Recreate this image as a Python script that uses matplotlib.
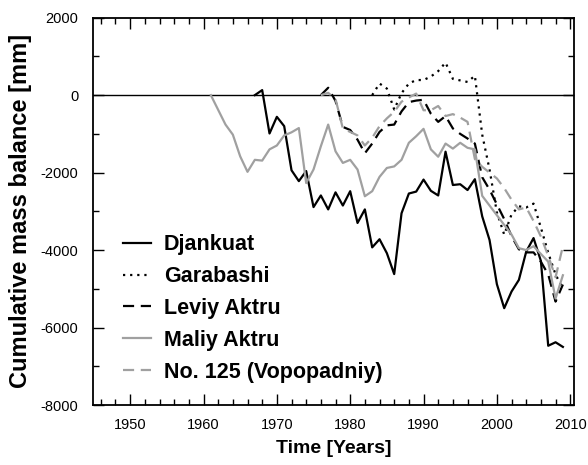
import numpy as np
import matplotlib
matplotlib.use("Agg")
import matplotlib.pyplot as plt
from matplotlib.ticker import MultipleLocator

plt.rcParams['font.family'] = ['Liberation Sans', 'DejaVu Sans']
plt.rcParams['axes.unicode_minus'] = False

# Cumulative mass balance [mm]
djankuat_years = list(range(1967, 2010))
djankuat = [0, 130, -990, -560, -800, -1940, -2220, -1960, -2890, -2590,
            -2950, -2510, -2850, -2480, -3300, -2950, -3930, -3720, -4080, -4620,
            -3050, -2540, -2490, -2180, -2470, -2590, -1460, -2320, -2300, -2450,
            -2170, -3130, -3740, -4880, -5500, -5070, -4770, -4040, -3690, -4280,
            -6470, -6380, -6500]

garabashi_years = list(range(1983, 2010))
garabashi = [0, 300, 170, -370, 50, 300, 390, 390, 480, 620,
             840, 420, 380, 340, 500, -1020, -1920, -3030, -3600, -3080,
             -2870, -2900, -2800, -3420, -4070, -4630, -5000]

leviy_years = list(range(1976, 2010))
leviy = [0, 190, -150, -820, -900, -1150, -1500, -1250, -950, -780,
         -760, -420, -180, -140, -120, -480, -690, -540, -860, -1000,
         -1120, -1250, -2120, -2440, -2820, -3200, -3640, -3980, -4060, -4060,
         -4300, -4630, -5330, -4890]

maliy_years = list(range(1961, 2010))
maliy = [0, -380, -760, -1020, -1580, -1980, -1670, -1690, -1400, -1300,
         -1040, -960, -850, -2270, -1920, -1320, -760, -1450, -1750, -1670,
         -1920, -2610, -2480, -2110, -1880, -1840, -1670, -1230, -1060, -870,
         -1400, -1590, -1250, -1380, -1230, -1360, -1400, -2600, -2850, -3100,
         -3350, -3600, -3950, -4000, -3900, -4100, -4300, -5250, -4650]

no125_years = list(range(1976, 2010))
no125 = [0, 60, -100, -860, -950, -1040, -1300, -1100, -800, -600,
         -430, -170, -60, 40, -390, -390, -280, -540, -490, -580,
         -690, -1650, -1850, -2000, -2150, -2400, -2700, -2950, -2900, -3250,
         -3650, -4150, -4700, -3900]

gray = '#a0a0a0'

fig = plt.figure(figsize=(5.88, 4.65), dpi=100)
ax = fig.add_axes([0.159, 0.129, 0.817, 0.833])

ax.axhline(0, color='black', lw=1.0, zorder=1)

ax.plot(djankuat_years, djankuat, color='black', lw=1.6, label='Djankuat')
ax.plot(garabashi_years, garabashi, color='black', lw=1.6, linestyle=(0, (1, 2.2)),
        label='Garabashi')
ax.plot(leviy_years, leviy, color='black', lw=1.6, linestyle=(0, (5, 3)),
        label='Leviy Aktru')
ax.plot(maliy_years, maliy, color=gray, lw=1.6, label='Maliy Aktru')
ax.plot(no125_years, no125, color=gray, lw=1.6, linestyle=(0, (5, 3)),
        label='No. 125 (Vopopadniy)')

ax.set_xlim(1945, 2010.5)
ax.set_ylim(-8000, 2000)
ax.xaxis.set_major_locator(MultipleLocator(10))
ax.xaxis.set_minor_locator(MultipleLocator(2))
ax.yaxis.set_major_locator(MultipleLocator(2000))
ax.yaxis.set_minor_locator(MultipleLocator(1000))
ax.tick_params(which='both', direction='in', top=True, right=True,
               labelsize=10.5, width=1.0)
ax.tick_params(axis='x', which='both', pad=9)
ax.tick_params(axis='y', which='both', pad=11)
ax.tick_params(which='major', length=8)
ax.tick_params(which='minor', length=4.5)
for s in ax.spines.values():
    s.set_linewidth(1.3)

ax.set_xlabel('Time [Years]', fontsize=14, fontweight='bold', labelpad=6)
ax.set_ylabel('Cumulative mass balance [mm]', fontsize=17, fontweight='bold', labelpad=6)

leg = ax.legend(loc='lower left', bbox_to_anchor=(0.021, 0.008), frameon=False,
                prop={'weight': 'bold', 'size': 15.5}, handlelength=1.3,
                handletextpad=0.6, labelspacing=0.5)

fig.savefig('out.png', dpi=100)
